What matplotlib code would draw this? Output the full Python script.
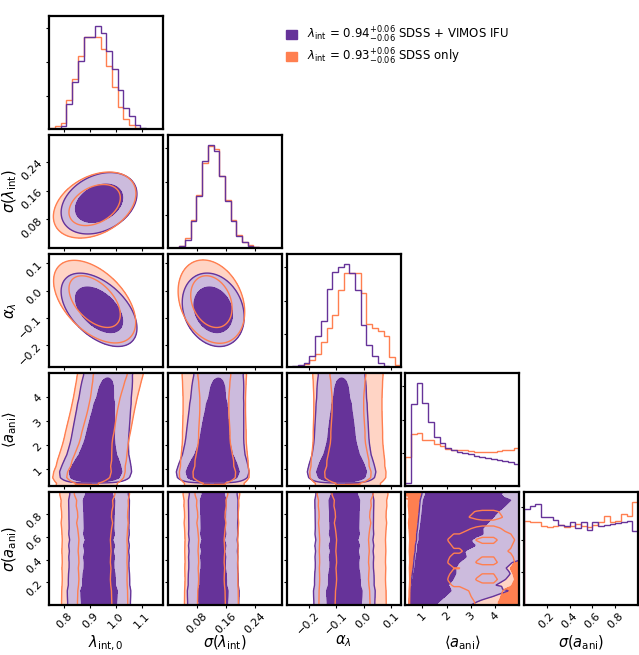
import numpy as np
import matplotlib
matplotlib.use("Agg")
import matplotlib.pyplot as plt
from matplotlib.patches import Patch

# parameters, axis ranges and ticks
labels = [r"$\lambda_{\rm int,0}$", r"$\sigma(\lambda_{\rm int})$", r"$\alpha_{\lambda}$",
          r"$\langle a_{\rm ani}\rangle$", r"$\sigma(a_{\rm ani})$"]
ranges = [(0.743, 1.183), (0.0, 0.315), (-0.28, 0.135), (0.31, 4.99), (0.0, 1.0)]
ticks = [[0.8, 0.9, 1.0, 1.1], [0.08, 0.16, 0.24], [-0.2, -0.1, 0.0, 0.1],
         [1, 2, 3, 4], [0.2, 0.4, 0.6, 0.8]]

# 1D histograms, 20 bins over each range (SDSS + VIMOS IFU)
hist_lam_v = [0, 1, 10, 76, 141, 203, 275, 275, 306, 285, 233, 178, 118, 62, 40, 13, 4, 1, 0, 0]
hist_slam_v = [0, 2, 6, 26, 81, 156, 261, 309, 291, 216, 141, 81, 36, 18, 8, 4, 1, 0, 0, 0]
hist_alpha_v = [0, 2, 5, 12, 35, 95, 140, 235, 285, 300, 310, 282, 232, 127, 67, 34, 12, 4, 1, 0]
hist_a_v = [8, 248, 310, 250, 193, 148, 130, 116, 108, 104, 100, 96, 92, 88, 86, 80, 78, 76, 72, 66]
hist_sa_v = [293, 303, 308, 268, 268, 261, 245, 243, 253, 235, 255, 228, 253, 243, 245, 248, 250, 255, 258, 225]

# 1D histograms (SDSS only)
hist_lam_s = [3, 10, 20, 88, 148, 218, 275, 275, 275, 238, 188, 126, 66, 31, 13, 5, 2, 1, 0, 0]
hist_slam_s = [0, 2, 8, 30, 86, 160, 255, 306, 298, 216, 146, 86, 40, 20, 9, 4, 1, 0, 0, 0]
hist_alpha_s = [0, 1, 3, 8, 20, 40, 75, 117, 157, 232, 282, 282, 282, 222, 130, 117, 110, 95, 30, 5]
hist_a_s = [88, 156, 160, 140, 138, 128, 120, 113, 110, 110, 108, 106, 104, 103, 103, 103, 105, 108, 110, 115]
hist_sa_s = [258, 255, 253, 243, 238, 241, 246, 238, 241, 248, 243, 238, 245, 255, 271, 253, 258, 278, 271, 315]

# 2D summaries for lambda, sigma(lambda), alpha
mu_v = [0.935, 0.125, -0.07]
sd_v = [0.060, 0.035, 0.055]
corr_v = [0.3, -0.5, -0.2]          # (lam,slam), (lam,alpha), (slam,alpha)
# against <a_ani>: centre at <a_ani> = 2, drift per unit, width
mu_a_v = [0.935, 0.128, -0.08]
slope_a_v = [0.012, 0.004, 0.0]
sd_a_v = [0.058, 0.042, 0.052]
# <a_ani> spread against sigma(a_ani): base scale and growth
a_scale_v = [0.75, 2.5]

mu_s = [0.918, 0.12, -0.04]
sd_s = [0.066, 0.038, 0.063]
corr_s = [0.35, -0.5, -0.25]
mu_a_s = [0.92, 0.128, -0.057]
slope_a_s = [0.02, 0.0, 0.0]
sd_a_s = [0.066, 0.046, 0.066]
a_scale_s = [1.0, 0.0]

PURPLE = "#663399"
ORANGE = "#ff7f50"
LIGHT_PURPLE = "#ccbbdd"
LIGHT_ORANGE = "#ffd4c5"

sets = {
    "vimos": dict(hists=[hist_lam_v, hist_slam_v, hist_alpha_v, hist_a_v, hist_sa_v],
                  mu=mu_v, sd=sd_v, corr=corr_v, mu_a=mu_a_v, slope=slope_a_v, sd_a=sd_a_v,
                  a_scale=a_scale_v, color=PURPLE, light=LIGHT_PURPLE),
    "sdss": dict(hists=[hist_lam_s, hist_slam_s, hist_alpha_s, hist_a_s, hist_sa_s],
                 mu=mu_s, sd=sd_s, corr=corr_s, mu_a=mu_a_s, slope=slope_a_s, sd_a=sd_a_s,
                 a_scale=a_scale_s, color=ORANGE, light=LIGHT_ORANGE),
}


def marg(d, k, v):
    lo, hi = ranges[k]
    centers = lo + (np.arange(20) + 0.5) * (hi - lo) / 20
    return np.interp(v, centers, d["hists"][k])


def density(d, ix, iy, X, Y):
    if iy <= 2:
        r = d["corr"][{(0, 1): 0, (0, 2): 1, (1, 2): 2}[(ix, iy)]]
        u = (X - d["mu"][ix]) / d["sd"][ix]
        w = (Y - d["mu"][iy]) / d["sd"][iy]
        return np.exp(-(u**2 - 2 * r * u * w + w**2) / (2 * (1 - r**2)))
    if ix <= 2:
        if iy == 3:
            mx = d["mu_a"][ix] + d["slope"][ix] * (Y - 2.0)
            return marg(d, 3, Y) * np.exp(-0.5 * ((X - mx) / d["sd_a"][ix])**2)
        return marg(d, 4, Y) * np.exp(-0.5 * ((X - d["mu"][ix]) / d["sd"][ix])**2)
    a0 = ranges[3][0]
    base, grow = d["a_scale"]
    a_eff = a0 + (X - a0) / (base + grow * Y)
    return marg(d, 3, a_eff) * marg(d, 4, Y)


def levels_for(dens, probs=(0.95, 0.68)):
    flat = np.sort(dens.ravel())[::-1]
    cum = np.cumsum(flat)
    cum /= cum[-1]
    return [flat[np.searchsorted(cum, p)] for p in probs]


fig, axes = plt.subplots(5, 5, figsize=(6.39, 6.55), dpi=100)
fig.subplots_adjust(left=0.0772, right=0.9984, bottom=1 - 605 / 655, top=1 - 16 / 655,
                    wspace=0.042, hspace=0.05)

for i in range(5):
    for j in range(5):
        ax = axes[i, j]
        if j > i:
            ax.set_frame_on(False)
            ax.set_xticks([])
            ax.set_yticks([])
            continue
        if i == j:
            lo, hi = ranges[i]
            edges = np.linspace(lo, hi, 21)
            top = 0
            for key in ["sdss", "vimos"]:
                d = sets[key]
                ax.stairs(d["hists"][i], edges, color=d["color"], lw=1)
                top = max(top, max(d["hists"][i]))
            ax.set_ylim(0, 1.1 * top)
            ax.yaxis.set_major_locator(plt.MaxNLocator(4, prune="lower"))
            ax.set_yticklabels([])
        else:
            xs = np.linspace(*ranges[j], 160)
            ys = np.linspace(*ranges[i], 160)
            X, Y = np.meshgrid(xs, ys)
            dens = {k: density(sets[k], j, i, X, Y) for k in sets}
            lev = {k: levels_for(dens[k]) for k in sets}
            for key in ["sdss", "vimos"]:
                d = sets[key]
                ax.contourf(X, Y, dens[key], levels=[lev[key][0], lev[key][1], dens[key].max() * 1.01],
                            colors=[d["light"], d["color"]])
            for key in ["vimos", "sdss"]:
                d = sets[key]
                ax.contour(X, Y, dens[key], levels=lev[key], colors=d["color"], linewidths=1)
            ax.set_ylim(*ranges[i])
            ax.set_yticks(ticks[i])
            if j == 0:
                ax.set_ylabel(labels[i], fontsize=10.5)
                ax.yaxis.set_label_coords(-0.27, 0.5)
                for t in ax.get_yticklabels():
                    t.set_rotation(45)
            else:
                ax.set_yticklabels([])
        ax.set_xlim(*ranges[j])
        ax.set_xticks(ticks[j])
        if i == 4:
            ax.set_xlabel(labels[j], fontsize=10.5)
            ax.xaxis.set_label_coords(0.5, -0.25)
            for t in ax.get_xticklabels():
                t.set_rotation(45)
        else:
            ax.set_xticklabels([])
        ax.tick_params(labelsize=8, length=2.2, width=0.8, pad=1.8)
        for s in ax.spines.values():
            s.set_linewidth(1.6)

handles = [Patch(color=PURPLE, label=r"$\lambda_{\rm int}$ = 0.94$^{+0.06}_{-0.06}$ SDSS + VIMOS IFU"),
           Patch(color=ORANGE, label=r"$\lambda_{\rm int}$ = 0.93$^{+0.06}_{-0.06}$ SDSS only")]
fig.legend(handles=handles, loc="upper left", bbox_to_anchor=(275 / 639, 1 - 14 / 655),
           frameon=False, fontsize=8.5, handlelength=1.0, handleheight=0.8,
           handletextpad=0.8, labelspacing=0.15)

fig.savefig("out.png", dpi=100)
